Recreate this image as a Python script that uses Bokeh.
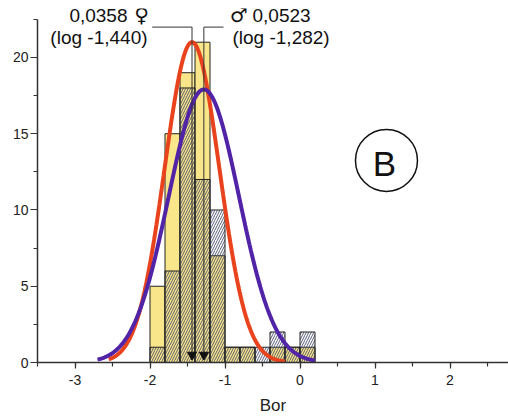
import numpy as np
from bokeh.plotting import figure
from bokeh.models import ColumnDataSource, SingleIntervalTicker, Range1d
from bokeh.core.properties import value
from bokeh.embed import file_html
from bokeh.resources import INLINE

# ---- data ----
bin_left = [-2.0, -1.8, -1.6, -1.4, -1.2, -1.0, -0.8, -0.6, -0.4, -0.2, 0.0]
bin_width = 0.2
counts_yellow = [5, 15, 19, 21, 7, 1, 1, 0, 1, 1, 1]
counts_hatched = [1, 6, 18, 12, 10, 1, 1, 1, 2, 1, 2]

# fitted normal curves (female = red, male = purple)
fit_mean = [-1.440, -1.282]
fit_sd = [0.365, 0.47]
fit_peak = [21.0, 17.9]
fit_from = [-2.55, -2.7]
fit_to = [-0.2, 0.2]
fit_color = ["#E8431C", "#5123A6"]

x_ticks = [-3, -2, -1, 0, 1, 2]
x_tick_labels = ["-3", "-2", "-1", "0", "1", "2"]

female_value = "0,0358"
female_symbol = "\u2640"
female_log = "(log -1,440)"
male_value = "0,0523"
male_symbol = "\u2642"
male_log = "(log -1,282)"
panel_letter = "B"
x_label = "Bor"

FONT = "Liberation Sans"
SYM_FONT = "DejaVu Sans"

p = figure(width=508, height=420, output_backend="svg", toolbar_location=None,
           x_range=Range1d(-3.5, 2.78), y_range=Range1d(0, 23.21),
           min_border_left=37, min_border_right=0, min_border_top=8,
           min_border_bottom=58)
p.outline_line_color = None
p.grid.visible = False
p.background_fill_color = "white"
p.border_fill_color = "white"

# histograms
right = [b + bin_width for b in bin_left]
src_y = ColumnDataSource(dict(left=bin_left, right=right, top=counts_yellow))
src_h = ColumnDataSource(dict(left=bin_left, right=right, top=counts_hatched))
p.quad(left="left", right="right", bottom=0, top="top", source=src_y,
       fill_color="#F9E68A", line_color="#222222", line_width=1)
p.quad(left="left", right="right", bottom=0, top="top", source=src_h,
       fill_color=None, hatch_pattern="/", hatch_color="#474C6A", hatch_alpha=0.9,
       hatch_scale=5, hatch_weight=1, line_color="#222222", line_width=1)

# fitted curves
for m, s, a, x0, x1, c in zip(fit_mean, fit_sd, fit_peak, fit_from, fit_to, fit_color):
    xs = np.linspace(x0, x1, 300)
    ys = a * np.exp(-((xs - m) ** 2) / (2 * s * s))
    p.line(xs, ys, line_color=c, line_width=4)

# mean markers & leaders
lead_y = 21.99
p.segment(x0=fit_mean, y0=[lead_y, lead_y], x1=fit_mean, y1=[0.5, 0.5],
          line_color="#333333", line_width=1)
p.segment(x0=[-1.97, fit_mean[1]], y0=[lead_y, lead_y],
          x1=[fit_mean[0], -1.02], y1=[lead_y, lead_y],
          line_color="#333333", line_width=1)
p.scatter(x=fit_mean, y=[0.5, 0.5], marker="inverted_triangle", size=9,
          fill_color="#111111", line_color="#111111")

row1, row2 = 22.75, 21.31
# female annotation
p.text(x=[-2.30], y=[row1], text=[female_value], text_font=value(FONT),
       text_font_size="19px", text_align="right", text_baseline="middle",
       text_color="#111111")
p.text(x=[-2.113], y=[row1 + 0.05], text=[female_symbol], text_font=value(SYM_FONT),
       text_font_size="20px", text_align="center", text_baseline="middle",
       text_color="#111111")
p.text(x=[-2.033], y=[row2], text=[female_log], text_font=value(FONT),
       text_font_size="19px", text_align="right", text_baseline="middle",
       text_color="#111111")
# male annotation
p.text(x=[-0.813], y=[row1 + 0.05], text=[male_symbol], text_font=value(SYM_FONT),
       text_font_size="20px", text_align="center", text_baseline="middle",
       text_color="#111111")
p.text(x=[-0.633], y=[row1], text=[male_value], text_font=value(FONT),
       text_font_size="19px", text_align="left", text_baseline="middle",
       text_color="#111111")
p.text(x=[-0.90], y=[row2], text=[male_log], text_font=value(FONT),
       text_font_size="19px", text_align="left", text_baseline="middle",
       text_color="#111111")

# panel letter
p.scatter(x=[1.153], y=[13.25], marker="circle", size=62, fill_color=None,
          line_color="#111111", line_width=1.5)
p.text(x=[1.127], y=[13.05], text=[panel_letter], text_font=value(FONT),
       text_font_size="35px", text_align="center", text_baseline="middle",
       text_color="#111111")

# axes
for ax in (p.xaxis[0], p.yaxis[0]):
    ax.axis_line_color = "#333333"
    ax.axis_line_width = 1.5
    ax.major_tick_line_color = "#333333"
    ax.minor_tick_line_color = "#333333"
    ax.major_tick_line_width = 1.2
    ax.minor_tick_line_width = 1.2
    ax.major_tick_in = 0
    ax.minor_tick_in = 0
    ax.major_label_text_font = FONT
    ax.major_label_text_font_size = "14px"
    ax.major_label_text_color = "#222222"
    ax.axis_label_text_font = FONT

p.xaxis.ticker = SingleIntervalTicker(interval=1, num_minor_ticks=2)
p.xaxis.major_label_overrides = {t: lab for t, lab in zip(x_ticks, x_tick_labels)}
p.xaxis.major_tick_out = 6
p.xaxis.minor_tick_out = 4
p.xaxis.major_label_standoff = 6
p.xaxis.axis_label = x_label
p.xaxis.axis_label_text_font_size = "17px"
p.xaxis.axis_label_text_font_style = "normal"
p.xaxis.axis_label_text_color = "#222222"
p.xaxis.axis_label_standoff = 8

p.yaxis.ticker = SingleIntervalTicker(interval=5, num_minor_ticks=2)
p.yaxis.bounds = (0, 22.5)
p.yaxis.major_tick_out = 7
p.yaxis.minor_tick_out = 4
p.yaxis.major_label_standoff = 2

open("out.html", "w").write(file_html(p, INLINE))
